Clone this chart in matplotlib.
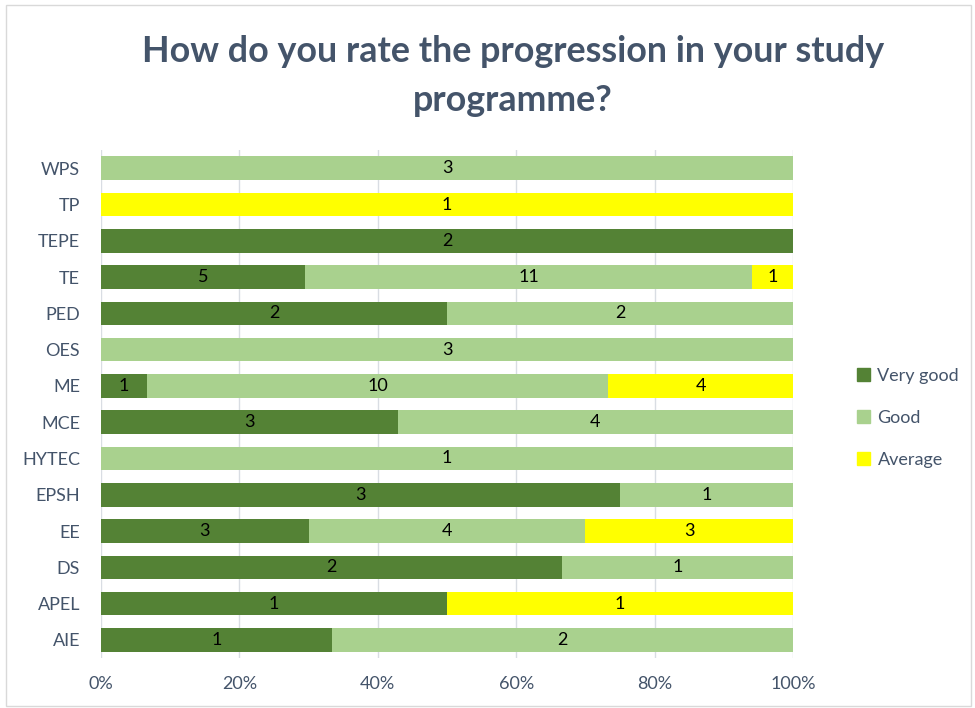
import numpy as np
import matplotlib.pyplot as plt
from matplotlib.patches import Patch, Rectangle

# Data (bottom to top)
categories = ['AIE', 'APEL', 'DS', 'EE', 'EPSH', 'HYTEC', 'MCE', 'ME',
              'OES', 'PED', 'TE', 'TEPE', 'TP', 'WPS']
very_good = [1, 1, 2, 3, 3, 0, 3, 1, 0, 2, 5, 2, 0, 0]
good      = [2, 0, 1, 4, 1, 1, 4, 10, 3, 2, 11, 0, 0, 3]
average   = [0, 1, 0, 3, 0, 0, 0, 4, 0, 0, 1, 0, 1, 0]
series_names = ['Very good', 'Good', 'Average']
colors = ['#548235', '#A9D18E', '#FFFF00']
x_ticks = [0, 0.2, 0.4, 0.6, 0.8, 1.0]

plt.rcParams['font.family'] = ['Lato', 'DejaVu Sans']
TXT = '#44546A'

counts = np.array([very_good, good, average], dtype=float)
totals = counts.sum(axis=0)
shares = counts / totals

fig = plt.figure(figsize=(9.75, 7.08), dpi=100)
ax = fig.add_axes([0.1036, 0.0706, 0.7097, 0.7174])

y = np.arange(len(categories))
left = np.zeros(len(categories))
for k in range(3):
    ax.barh(y, shares[k], left=left, height=0.65, color=colors[k],
            label=series_names[k], zorder=3)
    for i in range(len(categories)):
        if counts[k, i] > 0:
            ax.text(left[i] + shares[k, i] / 2, y[i], '%d' % counts[k, i],
                    ha='center', va='center', fontsize=13, color='black', zorder=4)
    left = left + shares[k]

ax.set_xlim(0, 1)
ax.set_ylim(-0.5, len(categories) - 0.5)
ax.set_yticks(y)
ax.set_yticklabels(categories)
ax.set_xticks(x_ticks)
ax.set_xticklabels(['%d%%' % round(t * 100) for t in x_ticks])
ax.tick_params(axis='both', length=0, labelsize=13, labelcolor=TXT)
ax.tick_params(axis='x', pad=13)
ax.tick_params(axis='y', pad=15)
ax.xaxis.grid(True, color='#D9DDE3', lw=1, zorder=0)
for s in ax.spines.values():
    s.set_visible(False)

fig.text(0.526, 0.893, 'How do you rate the progression in your study\nprogramme?',
         ha='center', va='center', fontsize=25.8, fontweight='bold', color=TXT,
         linespacing=1.6)

handles = [Patch(color=c, label=n) for c, n in zip(colors, series_names)]
fig.legend(handles=handles, loc='center left', bbox_to_anchor=(0.862, 0.41),
           frameon=False, fontsize=13, labelcolor=TXT, handlelength=0.75,
           handleheight=0.75, handletextpad=0.4, labelspacing=1.45)

fig.patches.append(Rectangle((0.006, 0.003), 0.99, 0.99, transform=fig.transFigure,
                             fill=False, edgecolor='#D9D9D9', lw=1))

fig.savefig('out.png', dpi=100)
